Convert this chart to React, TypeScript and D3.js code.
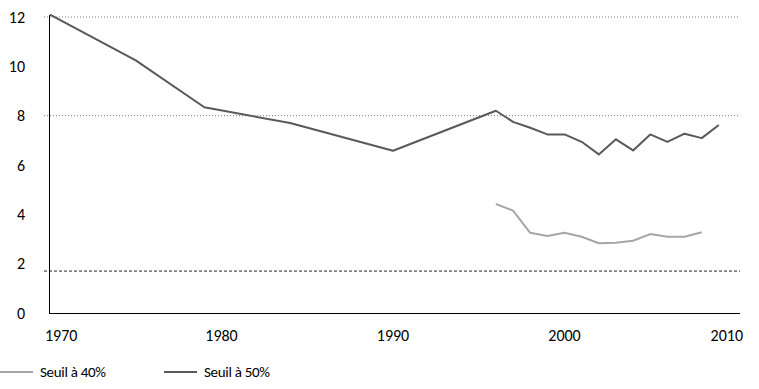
import * as d3 from "d3";

// Seuil à 50 %
const years50 = [1970, 1975, 1979, 1984, 1990, 1996, 1997, 1998, 1999, 2000, 2001, 2002, 2003, 2004, 2005, 2006, 2007, 2008, 2009];
const values50 = [12.1, 10.24, 8.34, 7.7, 6.58, 8.2, 7.75, 7.51, 7.24, 7.24, 6.94, 6.43, 7.04, 6.59, 7.24, 6.94, 7.27, 7.09, 7.62];

// Seuil à 40 %
const years40 = [1996, 1997, 1998, 1999, 2000, 2001, 2002, 2003, 2004, 2005, 2006, 2007, 2008];
const values40 = [4.42, 4.15, 3.25, 3.12, 3.25, 3.09, 2.83, 2.85, 2.93, 3.2, 3.09, 3.09, 3.27];

const yTicks = [0, 2, 4, 6, 8, 10, 12];
const xTicks = [1970, 1980, 1990, 2000, 2010];
const dottedGrid = [12, 8];
const refLine = 1.7;

const series = [
  { label: "Seuil à 40%", color: "#a6a6a6", years: years40, values: values40 },
  { label: "Seuil à 50%", color: "#595959", years: years50, values: values50 },
];

export default function App() {
  const width = 759;
  const height = 389;
  const x = d3.scaleLinear([1970, 2010], [50, 736]);
  const y = d3.scaleLinear([0, 12], [313, 17]);
  const font = "Carlito, Lato, 'Liberation Sans', sans-serif";

  return (
    <svg
      width={width}
      height={height}
      style={{ position: "absolute", left: 0, top: 0, background: "#fff" }}
      fontFamily={font}
    >
      {/* grid */}
      {dottedGrid.map((v) => (
        <line key={v} x1={44} x2={740} y1={y(v)} y2={y(v)} stroke="#7a7a7a" strokeWidth={1} strokeDasharray="1,2" />
      ))}
      <line x1={44} x2={740} y1={y(refLine)} y2={y(refLine)} stroke="#222" strokeWidth={1} strokeDasharray="3,2" />

      {/* axes */}
      <line x1={49.5} x2={49.5} y1={15} y2={313.5} stroke="#000" />
      <line x1={49} x2={740} y1={313.5} y2={313.5} stroke="#000" />

      {yTicks.map((t) => (
        <text key={t} x={25} y={y(t)} dy="0.35em" textAnchor="end" fontSize={16} fill="#000">
          {t}
        </text>
      ))}
      {xTicks.map((t, i) => {
        const anchor = i === 0 ? "start" : i === xTicks.length - 1 ? "end" : "middle";
        const dx = i === 0 ? -5 : i === xTicks.length - 1 ? 7 : 0;
        return (
          <text key={t} x={x(t) + dx} y={335} dy="0.35em" textAnchor={anchor} fontSize={16} fill="#000">
            {t}
          </text>
        );
      })}

      {/* lines */}
      {series.map((s) => {
        const line = d3.line<number>((_, i) => x(s.years[i]), (d) => y(d));
        return (
          <path key={s.label} d={line(s.values) ?? ""} fill="none" stroke={s.color} strokeWidth={2} strokeLinejoin="round" />
        );
      })}

      {/* legend */}
      {series.map((s, i) => {
        const lx = i * 164;
        return (
          <g key={s.label} transform={`translate(${lx},372)`}>
            <line x1={0} x2={33} y1={0} y2={0} stroke={s.color} strokeWidth={2} />
            <text x={40} y={0} dy="0.35em" fontSize={15} letterSpacing={-0.3} fill="#000">
              {s.label}
            </text>
          </g>
        );
      })}
    </svg>
  );
}
